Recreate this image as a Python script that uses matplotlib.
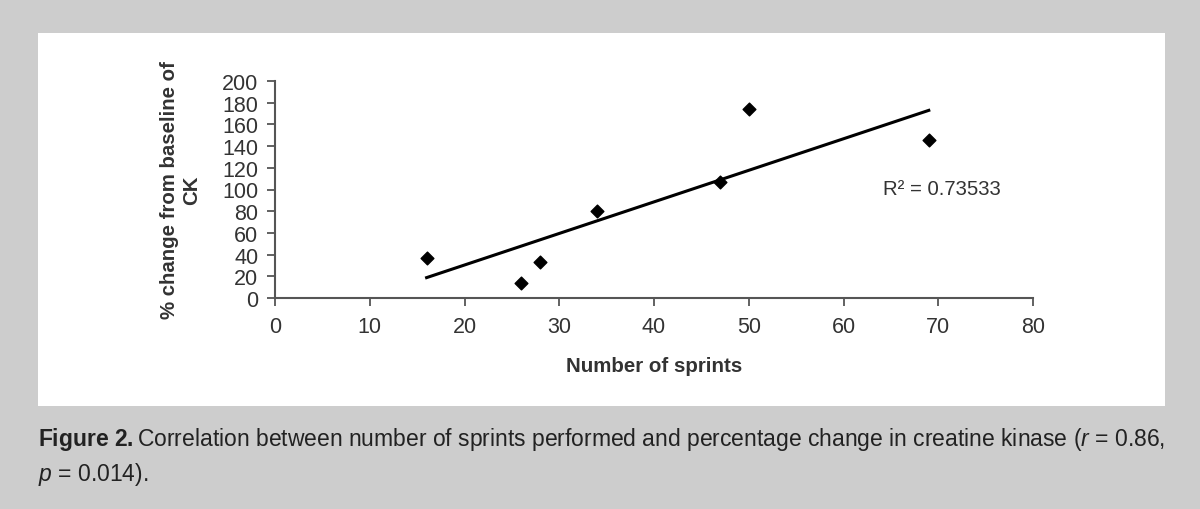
import numpy as np
import matplotlib
matplotlib.use('Agg')
from matplotlib import pyplot as plt
from matplotlib.patches import Rectangle

plt.rcParams['font.family'] = ['Liberation Sans', 'DejaVu Sans']
plt.rcParams['mathtext.fontset'] = 'custom'
plt.rcParams['mathtext.rm'] = 'Liberation Sans'
plt.rcParams['mathtext.it'] = 'Liberation Sans:italic'
plt.rcParams['mathtext.bf'] = 'Liberation Sans:bold'

# Data
sprints = [16, 26, 28, 34, 47, 50, 69]
ck_change = [37, 14, 33, 80, 107, 174, 146]
x_ticks = [0, 10, 20, 30, 40, 50, 60, 70, 80]
y_ticks = [0, 20, 40, 60, 80, 100, 120, 140, 160, 180, 200]
r_squared = '0.73533'

fig = plt.figure(figsize=(12, 5.1), dpi=100)
fig.patch.set_facecolor('#cdcdcd')

# white panel behind the chart
fig.patches.append(Rectangle((38 / 1200, 1 - 407 / 510), (1165 - 38) / 1200, (407 - 34) / 510,
                             transform=fig.transFigure, facecolor='white', edgecolor='none', zorder=-10))

ax = fig.add_axes([275 / 1200, 1 - 299 / 510, (1033 - 275) / 1200, (299 - 82) / 510])
ax.set_facecolor('none')

ax.scatter(sprints, ck_change, marker='D', s=42, color='black', zorder=3)

# linear trendline
slope, intercept = np.polyfit(sprints, ck_change, 1)
xs = np.array([min(sprints), max(sprints)])
ax.plot(xs, slope * xs + intercept, color='black', lw=2.2, zorder=2)

ax.text(64.2, 100.5, 'R² = ' + r_squared, fontsize=14.6, color='#333333', va='center')

ax.set_xlim(0, 80)
ax.set_ylim(0, 200)
ax.set_xticks(x_ticks)
ax.set_yticks(y_ticks)
for s in ['top', 'right']:
    ax.spines[s].set_visible(False)
for s in ['left', 'bottom']:
    ax.spines[s].set_color('#555555')
    ax.spines[s].set_linewidth(1.5)
ax.tick_params(axis='both', direction='out', length=6, width=1.3, color='#555555',
               labelsize=15.5, labelcolor='#333333', pad=6)
ax.tick_params(axis='x', pad=7)

ax.set_xlabel('Number of sprints', fontsize=14.8, fontweight='bold', color='#333333', labelpad=14)
ax.set_ylabel('% change from baseline of\nCK', fontsize=14.7, fontweight='bold', color='#333333',
              labelpad=15, linespacing=1.2)

cap1 = (r'$\mathbf{Figure\ 2.}$Correlation between number of sprints performed and percentage '
        r'change in creatine kinase ($\mathit{r}$ = 0.86,')
cap2 = r'$\mathit{p}$ = 0.014).'
fig.text(38 / 1200, 1 - 446 / 510, cap1, fontsize=16.5, color='#222222', va='baseline')
fig.text(38 / 1200, 1 - 481 / 510, cap2, fontsize=16.5, color='#222222', va='baseline')

fig.savefig('out.png', dpi=100, facecolor=fig.get_facecolor())
